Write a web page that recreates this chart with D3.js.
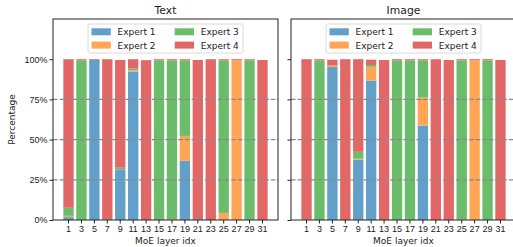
<!DOCTYPE html>
<html>
<head>
<meta charset="utf-8">
<script src="https://cdn.jsdelivr.net/npm/d3@7"></script>
<style>
  body { margin: 0; background: #fff; }
  svg { display: block; font-family: "DejaVu Sans", sans-serif; }
</style>
</head>
<body>
<div id="chart"></div>
<script>
// MoE layer indices on the x axis
const layers = [1, 3, 5, 7, 9, 11, 13, 15, 17, 19, 21, 23, 25, 27, 29, 31];
const experts = ["Expert 1", "Expert 2", "Expert 3", "Expert 4"];
const yTicks = [0, 25, 50, 75, 100];
const gridTicks = [25, 50, 75];

// routing share (%) per expert, text tokens
const textE1 = [1.8, 0, 99.5, 0, 31.5, 92.3, 0, 0, 0, 36.8, 0.4, 0, 0, 0, 0.4, 0];
const textE2 = [0.8, 0, 0, 0, 0, 0.7, 0, 0, 0.5, 15.5, 0, 0, 4.4, 99.3, 0, 0];
const textE3 = [5.0, 99.3, 0, 0.5, 1.0, 1.2, 0, 99.3, 98.8, 47.0, 0, 0, 94.9, 0, 98.9, 0];
const textE4 = [92.4, 0.7, 0.5, 99.5, 67.0, 5.8, 99.4, 0.7, 0.7, 0.7, 99.1, 100, 0.7, 0.7, 0.7, 99.5];

// routing share (%) per expert, image tokens
const imageE1 = [0, 0, 95.2, 0, 37.5, 86.6, 0, 0, 0, 58.7, 0, 0, 0, 0, 0, 0];
const imageE2 = [0, 0, 0.8, 0, 0.6, 8.7, 0, 0, 0, 17.5, 0, 0, 0.4, 99.3, 0, 0];
const imageE3 = [0.4, 99.3, 0, 0, 4.3, 1.1, 0, 99.3, 99.3, 23.1, 0, 0, 98.9, 0, 99.3, 0];
const imageE4 = [99.6, 0.7, 3.7, 100, 57.6, 3.3, 99.5, 0.7, 0.7, 0.7, 100, 99.5, 0.7, 0.7, 0.7, 99.5];

const COLORS = ["#62a0ca", "#ffa556", "#6bbd6b", "#e26868"];
const FONT = 9, TITLE_FONT = 10.8;

var width = 513, height = 247;
var plotTop = 19, plotBottom = 220, panelW = 225;
var panels = [
    { title: "Text", left: 53, series: [textE1, textE2, textE3, textE4], labels: true },
    { title: "Image", left: 291, series: [imageE1, imageE2, imageE3, imageE4], labels: false }
];

var svg = d3.select("#chart")
    .append("svg")
    .attr("width", width)
    .attr("height", height);

var y = d3.scaleLinear().domain([0, 125]).range([plotBottom, plotTop]);
var color = d3.scaleOrdinal().domain(experts).range(COLORS);

panels.forEach(p => {
    // rows for the stack: one per layer
    let rows = layers.map((l, i) => {
        let r = { layer: l };
        experts.forEach((e, k) => { r[e] = p.series[k][i]; });
        return r;
    });
    let stacked = d3.stack().keys(experts)(rows);

    let x = d3.scaleBand()
        .domain(layers)
        .range([p.left, p.left + panelW])
        .paddingInner(0.2)
        .paddingOuter(0.8);

    let g = svg.append("g");

    // stacked bars
    g.selectAll("g.layer")
        .data(stacked)
        .enter()
        .append("g")
        .attr("fill", d => color(d.key))
        .selectAll("rect")
        .data(d => d)
        .enter()
        .append("rect")
        .attr("x", d => x(d.data.layer))
        .attr("width", x.bandwidth())
        .attr("y", d => y(d[1]))
        .attr("height", d => y(d[0]) - y(d[1]));

    // dashed grid on top of bars
    g.selectAll("line.grid")
        .data(gridTicks)
        .enter()
        .append("line")
        .attr("x1", p.left)
        .attr("x2", p.left + panelW)
        .attr("y1", d => y(d))
        .attr("y2", d => y(d))
        .attr("stroke", "#8a8a8a")
        .attr("stroke-width", 1.3)
        .attr("stroke-dasharray", "4.6,2");

    // x axis
    let xAxis = g.append("g")
        .attr("transform", "translate(0," + plotBottom + ")")
        .call(d3.axisBottom(x).tickSize(3.5).tickPadding(2));
    xAxis.select(".domain").remove();
    xAxis.selectAll("text").attr("font-size", FONT).attr("fill", "#222");
    xAxis.selectAll("line").attr("stroke", "#222");

    // y axis
    let yAxis = g.append("g")
        .attr("transform", "translate(" + p.left + ",0)")
        .call(d3.axisLeft(y).tickValues(yTicks).tickSize(3.5).tickPadding(2)
            .tickFormat(d => p.labels ? d + "%" : ""));
    yAxis.select(".domain").remove();
    yAxis.selectAll("text").attr("font-size", FONT).attr("fill", "#222");
    yAxis.selectAll("line").attr("stroke", "#222");

    // frame
    g.append("rect")
        .attr("x", p.left)
        .attr("y", plotTop)
        .attr("width", panelW)
        .attr("height", plotBottom - plotTop)
        .attr("fill", "none")
        .attr("stroke", "#222")
        .attr("stroke-width", 1);

    let cx = p.left + panelW / 2;

    g.append("text")
        .attr("x", cx)
        .attr("y", 14)
        .attr("text-anchor", "middle")
        .attr("font-size", TITLE_FONT)
        .attr("fill", "#222")
        .text(p.title);

    g.append("text")
        .attr("x", cx)
        .attr("y", 244)
        .attr("text-anchor", "middle")
        .attr("font-size", FONT)
        .attr("fill", "#222")
        .text("MoE layer idx");

    // legend, two columns
    let lx = cx - 77.5;
    let legend = g.append("g").attr("transform", "translate(" + lx + ",24)");
    legend.append("rect")
        .attr("width", 155)
        .attr("height", 29)
        .attr("rx", 2)
        .attr("fill", "#fff")
        .attr("fill-opacity", 0.85)
        .attr("stroke", "#d0d0d0")
        .attr("stroke-width", 0.8);
    let items = legend.selectAll("g.item")
        .data(experts)
        .enter()
        .append("g")
        .attr("transform", (d, i) => "translate(" + (3.5 + Math.floor(i / 2) * 83.2) + "," + (4.3 + (i % 2) * 13.3) + ")");
    items.append("rect")
        .attr("width", 19.3)
        .attr("height", 7)
        .attr("fill", d => color(d));
    items.append("text")
        .attr("x", 26)
        .attr("y", 7)
        .attr("font-size", FONT)
        .attr("fill", "#222")
        .text(d => d);
});

svg.append("text")
    .attr("transform", "translate(15," + ((plotTop + plotBottom) / 2) + ") rotate(-90)")
    .attr("text-anchor", "middle")
    .attr("font-size", FONT)
    .attr("fill", "#222")
    .text("Percentage");
</script>
</body>
</html>
